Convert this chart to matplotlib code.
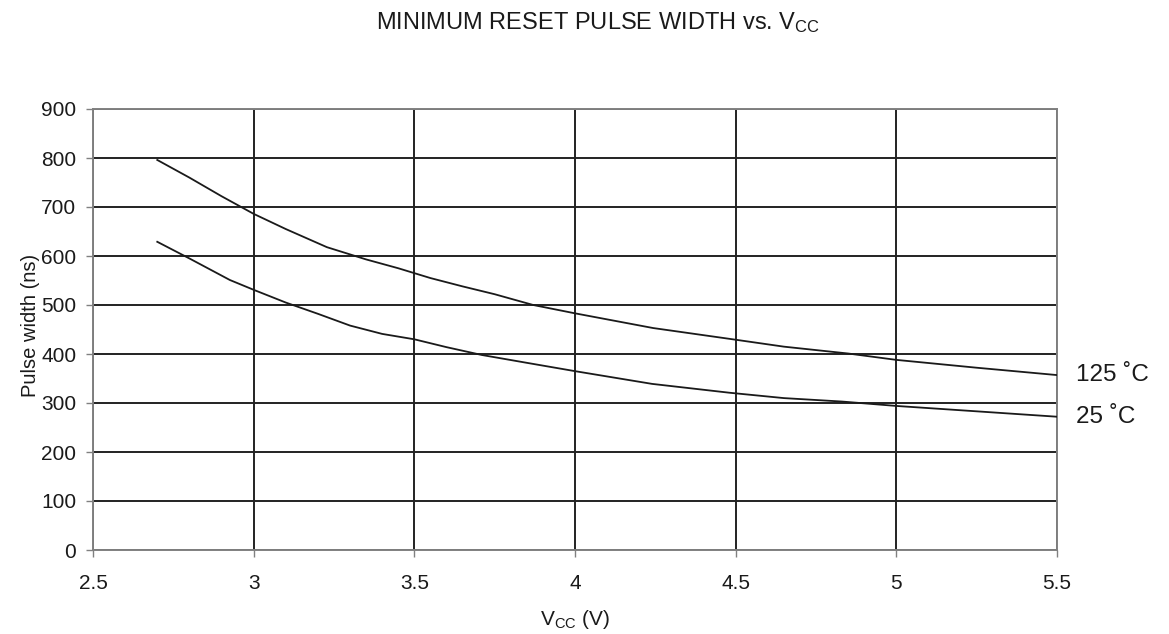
import matplotlib
matplotlib.use("Agg")
import matplotlib.pyplot as plt

plt.rcParams['font.family'] = ['Liberation Sans', 'DejaVu Sans']
plt.rcParams['mathtext.fontset'] = 'custom'
plt.rcParams['mathtext.rm'] = 'Liberation Sans'
plt.rcParams['mathtext.it'] = 'Liberation Sans'

vcc = [2.7, 2.8, 2.9, 3.0, 3.1, 3.228, 3.35, 3.45, 3.55, 3.65, 3.75, 3.87, 4.0, 4.243, 4.48, 4.65, 4.85, 5.0, 5.25, 5.5]
pw_125 = [796, 760, 722, 686, 655, 618, 593, 575, 555, 538, 522, 500, 483, 453, 431, 415, 401, 388, 372, 357]

vcc_25 = [2.7, 2.8, 2.926, 3.0, 3.1, 3.2, 3.3, 3.4, 3.5, 3.6, 3.71, 3.85, 4.0, 4.24, 4.48, 4.65, 4.83, 5.0, 5.25, 5.5]
pw_25 = [629, 595, 551, 531, 505, 482, 458, 441, 430, 414, 398, 382, 365, 339, 321, 310, 303, 294, 283, 272]

xticks = [2.5, 3, 3.5, 4, 4.5, 5, 5.5]
xticklabels = ['2.5', '3', '3.5', '4', '4.5', '5', '5.5']
yticks = [0, 100, 200, 300, 400, 500, 600, 700, 800, 900]

W, H = 1169, 634
fig = plt.figure(figsize=(W / 100, H / 100), dpi=100)
ax = fig.add_axes([93 / W, 1 - 550 / H, (1057 - 93) / W, (550 - 109) / H])

ax.plot(vcc, pw_125, color='#1a1a1a', lw=1.3, zorder=3)
ax.plot(vcc_25, pw_25, color='#1a1a1a', lw=1.3, zorder=3)

ax.set_xlim(2.5, 5.5)
ax.set_ylim(0, 900)
ax.set_xticks(xticks)
ax.set_xticklabels(xticklabels)
ax.set_yticks(yticks)
ax.grid(True, color='#222222', lw=1.4, zorder=1)
for s in ax.spines.values():
    s.set_color('#808080')
    s.set_linewidth(1.4)
ax.tick_params(axis='both', direction='out', length=5, width=1.0, color='#808080',
               labelsize=15, labelcolor='#1a1a1a', pad=7)
ax.tick_params(axis='x', pad=12)

fig.text(30 / W, 1 - 325 / H, 'Pulse width (ns)', rotation=90, ha='center', va='center',
         fontsize=14.5, color='#1a1a1a')
fig.text(575 / W, 1 - 625 / H, 'V$_{\\mathrm{CC}}$ (V)', ha='center', va='baseline',
         fontsize=15, color='#1a1a1a')

fig.text(598 / W, 1 - 29 / H, 'MINIMUM RESET PULSE WIDTH vs. V$_{\\mathrm{CC}}$',
         ha='center', va='baseline', fontsize=17, color='#1a1a1a')

ax.text(1.0197, pw_125[-1], '125 ˚C', transform=ax.get_yaxis_transform(),
        ha='left', va='center', fontsize=17.5, color='#1a1a1a')
ax.text(1.0197, pw_25[-1], '25 ˚C', transform=ax.get_yaxis_transform(),
        ha='left', va='center', fontsize=17.5, color='#1a1a1a')

fig.savefig('out.png', dpi=100)
